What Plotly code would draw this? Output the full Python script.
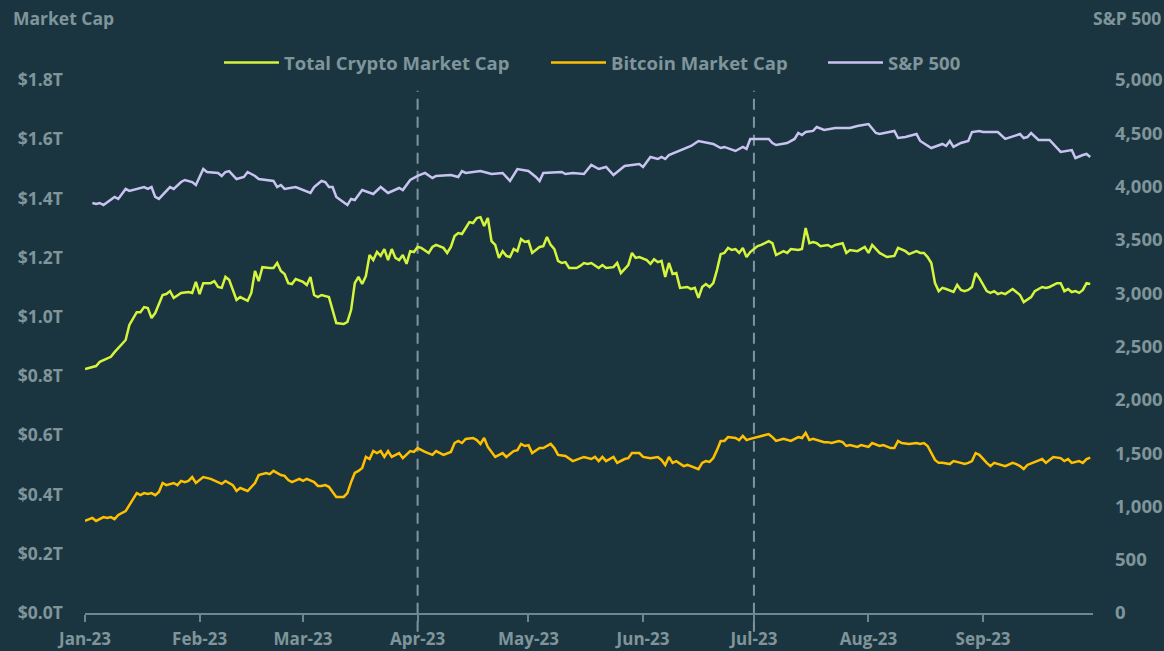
import pandas as pd
import plotly.graph_objects as go

START = "2023-01-01"

# Total crypto market cap (trillion USD), days since 2023-01-01
crypto_days = [0, 3, 4, 5, 7, 8, 9, 11, 12, 14,
               15, 16, 17, 18, 19, 21, 22, 23, 24, 26,
               28, 29, 30, 31, 32, 34, 35, 36, 37, 38,
               39, 41, 42, 44, 45, 46, 47, 48, 50, 51,
               52, 53, 54, 55, 56, 57, 59, 60, 61, 62,
               63, 64, 66, 67, 68, 70, 71, 72, 73, 74,
               75, 76, 77, 78, 79, 80, 81, 82, 83, 84,
               85, 86, 87, 88, 89, 90, 91, 93, 94, 95,
               97, 98, 99, 100, 101, 102, 103, 104, 105, 106,
               107, 108, 109, 110, 111, 112, 113, 114, 115, 116,
               117, 118, 119, 120, 121, 123, 124, 125, 126, 127,
               128, 129, 130, 131, 133, 134, 135, 136, 137, 139,
               140, 141, 143, 144, 145, 146, 147, 148, 149, 150,
               152, 153, 154, 155, 156, 157, 158, 159, 160, 161,
               163, 164, 165, 166, 167, 168, 169, 170, 171, 172,
               173, 174, 175, 176, 177, 178, 179, 180, 182, 183,
               185, 186, 187, 189, 190, 191, 193, 194, 195, 196,
               197, 198, 199, 201, 202, 203, 205, 206, 207, 209,
               211, 212, 213, 215, 216, 217, 219, 220, 222, 223,
               225, 226, 227, 228, 229, 230, 231, 232, 233, 235,
               236, 237, 238, 239, 240, 241, 242, 244, 245, 246,
               247, 248, 249, 251, 252, 253, 254, 256, 257, 259,
               260, 261, 263, 264, 265, 266, 267, 268, 269, 270,
               271, 272]
crypto_vals = [0.824, 0.834, 0.848, 0.854, 0.865, 0.881, 0.895, 0.922, 0.973, 1.016,
               1.016, 1.033, 1.030, 0.996, 1.013, 1.074, 1.077, 1.087, 1.064, 1.081,
               1.084, 1.081, 1.118, 1.077, 1.114, 1.114, 1.121, 1.101, 1.098, 1.135,
               1.125, 1.057, 1.067, 1.054, 1.081, 1.155, 1.121, 1.168, 1.165, 1.165,
               1.182, 1.155, 1.145, 1.114, 1.111, 1.128, 1.118, 1.108, 1.135, 1.074,
               1.067, 1.074, 1.067, 1.023, 0.979, 0.976, 0.983, 1.023, 1.114, 1.135,
               1.111, 1.138, 1.209, 1.192, 1.219, 1.206, 1.229, 1.192, 1.229, 1.199,
               1.192, 1.209, 1.179, 1.222, 1.219, 1.236, 1.233, 1.216, 1.236, 1.243,
               1.233, 1.216, 1.236, 1.273, 1.283, 1.280, 1.300, 1.320, 1.317, 1.334,
               1.337, 1.307, 1.334, 1.256, 1.243, 1.199, 1.222, 1.206, 1.202, 1.229,
               1.222, 1.263, 1.253, 1.256, 1.216, 1.236, 1.239, 1.270, 1.243, 1.229,
               1.189, 1.182, 1.185, 1.165, 1.165, 1.172, 1.182, 1.179, 1.182, 1.165,
               1.175, 1.165, 1.168, 1.182, 1.148, 1.162, 1.175, 1.216, 1.199, 1.202,
               1.192, 1.179, 1.195, 1.185, 1.189, 1.135, 1.182, 1.145, 1.148, 1.098,
               1.101, 1.094, 1.098, 1.064, 1.101, 1.111, 1.101, 1.114, 1.158, 1.212,
               1.216, 1.233, 1.226, 1.229, 1.216, 1.233, 1.202, 1.219, 1.239, 1.243,
               1.256, 1.249, 1.209, 1.222, 1.216, 1.229, 1.226, 1.229, 1.300, 1.249,
               1.253, 1.249, 1.239, 1.243, 1.236, 1.243, 1.249, 1.216, 1.226, 1.222,
               1.236, 1.216, 1.243, 1.216, 1.209, 1.202, 1.206, 1.233, 1.222, 1.212,
               1.222, 1.216, 1.216, 1.202, 1.182, 1.114, 1.087, 1.098, 1.094, 1.084,
               1.108, 1.091, 1.087, 1.091, 1.101, 1.148, 1.131, 1.087, 1.081, 1.087,
               1.077, 1.081, 1.077, 1.094, 1.084, 1.074, 1.050, 1.067, 1.087, 1.101,
               1.098, 1.101, 1.114, 1.114, 1.087, 1.094, 1.084, 1.087, 1.081, 1.091,
               1.114, 1.111]

# Bitcoin market cap (trillion USD)
btc_days = [0, 2, 3, 5, 6, 7, 8, 9, 11, 12,
            13, 14, 15, 16, 17, 18, 19, 20, 21, 22,
            24, 25, 26, 27, 28, 29, 30, 32, 34, 36,
            37, 38, 40, 41, 42, 44, 45, 46, 47, 48,
            49, 50, 51, 53, 54, 55, 56, 58, 59, 60,
            62, 63, 64, 65, 66, 67, 68, 70, 71, 72,
            73, 74, 75, 76, 77, 78, 79, 80, 81, 82,
            83, 85, 86, 88, 89, 90, 92, 94, 95, 97,
            99, 100, 101, 102, 103, 105, 106, 107, 108, 109,
            111, 113, 114, 116, 117, 118, 119, 120, 121, 123,
            124, 126, 127, 128, 130, 132, 133, 135, 137, 138,
            139, 140, 141, 143, 144, 146, 147, 148, 150, 151,
            153, 155, 156, 157, 158, 159, 160, 162, 163, 164,
            166, 167, 168, 169, 170, 171, 172, 173, 174, 176,
            177, 178, 179, 180, 182, 185, 186, 187, 189, 190,
            191, 193, 194, 195, 196, 197, 198, 200, 201, 202,
            204, 205, 206, 207, 209, 210, 212, 213, 215, 216,
            218, 219, 220, 221, 223, 225, 226, 227, 228, 229,
            230, 231, 232, 234, 235, 237, 238, 239, 240, 241,
            242, 244, 245, 246, 248, 249, 251, 252, 253, 254,
            255, 257, 259, 260, 261, 262, 264, 265, 266, 267,
            269, 270, 271, 272]
btc_vals = [0.311, 0.321, 0.311, 0.324, 0.321, 0.324, 0.317, 0.331, 0.344, 0.365,
            0.382, 0.405, 0.398, 0.405, 0.402, 0.405, 0.398, 0.409, 0.439, 0.432,
            0.439, 0.432, 0.446, 0.442, 0.446, 0.459, 0.439, 0.459, 0.453, 0.442,
            0.436, 0.446, 0.432, 0.412, 0.422, 0.412, 0.426, 0.439, 0.466, 0.469,
            0.473, 0.469, 0.480, 0.466, 0.463, 0.449, 0.442, 0.453, 0.446, 0.453,
            0.442, 0.429, 0.429, 0.432, 0.426, 0.409, 0.392, 0.392, 0.405, 0.442,
            0.473, 0.480, 0.490, 0.527, 0.520, 0.547, 0.540, 0.547, 0.527, 0.547,
            0.527, 0.540, 0.523, 0.547, 0.544, 0.557, 0.544, 0.534, 0.547, 0.534,
            0.544, 0.574, 0.581, 0.574, 0.588, 0.591, 0.584, 0.571, 0.591, 0.561,
            0.527, 0.540, 0.527, 0.547, 0.550, 0.571, 0.564, 0.567, 0.540, 0.557,
            0.557, 0.571, 0.557, 0.534, 0.530, 0.513, 0.517, 0.527, 0.520, 0.527,
            0.513, 0.527, 0.513, 0.527, 0.507, 0.520, 0.523, 0.540, 0.540, 0.527,
            0.523, 0.527, 0.517, 0.500, 0.527, 0.507, 0.513, 0.496, 0.500, 0.496,
            0.486, 0.507, 0.513, 0.510, 0.523, 0.550, 0.581, 0.581, 0.594, 0.591,
            0.584, 0.598, 0.584, 0.588, 0.594, 0.604, 0.594, 0.581, 0.588, 0.584,
            0.581, 0.594, 0.591, 0.608, 0.584, 0.588, 0.584, 0.577, 0.577, 0.574,
            0.581, 0.577, 0.564, 0.567, 0.561, 0.567, 0.561, 0.574, 0.564, 0.567,
            0.557, 0.557, 0.581, 0.574, 0.571, 0.574, 0.571, 0.574, 0.564, 0.540,
            0.517, 0.507, 0.507, 0.503, 0.513, 0.507, 0.503, 0.507, 0.513, 0.540,
            0.534, 0.507, 0.496, 0.507, 0.500, 0.496, 0.507, 0.503, 0.496, 0.486,
            0.500, 0.510, 0.520, 0.507, 0.517, 0.527, 0.523, 0.513, 0.520, 0.507,
            0.513, 0.507, 0.520, 0.525]

# S&P 500 index level
sp_days = [2, 3, 4, 5, 8, 9, 11, 12, 16, 17,
           18, 19, 20, 23, 24, 26, 27, 29, 30, 31,
           32, 33, 36, 37, 38, 39, 41, 43, 44, 46,
           47, 51, 52, 53, 54, 57, 61, 62, 64, 65,
           66, 67, 68, 71, 72, 73, 75, 78, 80, 82,
           85, 86, 88, 90, 92, 94, 95, 99, 101, 102,
           103, 107, 108, 110, 113, 115, 117, 120, 122, 123,
           124, 129, 130, 132, 135, 137, 139, 141, 143, 146,
           150, 151, 153, 155, 156, 157, 158, 163, 164, 166,
           170, 172, 173, 176, 178, 179, 180, 182, 183, 185,
           186, 187, 190, 192, 193, 194, 195, 197, 198, 200,
           203, 205, 207, 209, 212, 214, 215, 219, 220, 222,
           223, 225, 226, 229, 232, 233, 234, 235, 237, 239,
           240, 242, 243, 247, 249, 253, 254, 255, 256, 258,
           261, 264, 267, 268, 270, 271, 272]
sp_vals = [3846, 3837, 3846, 3827, 3903, 3884, 3978, 3959, 3996, 3978,
           3996, 3903, 3884, 3996, 3978, 4043, 4062, 4043, 4015, 4090,
           4165, 4137, 4128, 4100, 4137, 4146, 4071, 4090, 4137, 4100,
           4071, 4053, 3996, 4015, 3978, 3996, 3940, 3996, 4053, 4043,
           3996, 3996, 3903, 3827, 3884, 3874, 3968, 3931, 3996, 3940,
           3987, 3968, 4062, 4100, 4128, 4081, 4100, 4109, 4090, 4146,
           4128, 4146, 4137, 4118, 4128, 4053, 4165, 4146, 4090, 4053,
           4128, 4137, 4118, 4128, 4118, 4203, 4165, 4184, 4109, 4193,
           4212, 4184, 4278, 4259, 4278, 4259, 4296, 4362, 4381, 4428,
           4400, 4362, 4372, 4334, 4372, 4353, 4447, 4447, 4447, 4447,
           4409, 4390, 4409, 4447, 4503, 4484, 4512, 4522, 4559, 4531,
           4550, 4550, 4550, 4569, 4587, 4503, 4493, 4522, 4456, 4465,
           4475, 4493, 4428, 4362, 4400, 4381, 4428, 4372, 4409, 4428,
           4512, 4522, 4512, 4512, 4447, 4493, 4456, 4465, 4503, 4437,
           4437, 4325, 4343, 4268, 4296, 4306, 4278]

series_names = ["Total Crypto Market Cap", "Bitcoin Market Cap", "S&P 500"]
left_tick_vals = [0.0, 0.2, 0.4, 0.6, 0.8, 1.0, 1.2, 1.4, 1.6, 1.8]
left_tick_text = ["$0.0T", "$0.2T", "$0.4T", "$0.6T", "$0.8T",
                  "$1.0T", "$1.2T", "$1.4T", "$1.6T", "$1.8T"]
quarter_marks = ["2023-04-01", "2023-07-01"]


def to_dates(days):
    return pd.Timestamp(START) + pd.to_timedelta(days, unit="D")


BG = "#1b3540"
TXT = "#7f959b"
AXIS = "#6c878d"
FONT = "Open Sans"

fig = go.Figure()
fig.add_trace(go.Scatter(x=to_dates(crypto_days), y=crypto_vals, name=series_names[0],
                         mode="lines", line=dict(color="#d4f53c", width=2.5), yaxis="y",
                         legend="legend"))
fig.add_trace(go.Scatter(x=to_dates(btc_days), y=btc_vals, name=series_names[1],
                         mode="lines", line=dict(color="#ffc000", width=2.5), yaxis="y",
                         legend="legend2"))
fig.add_trace(go.Scatter(x=to_dates(sp_days), y=sp_vals, name=series_names[2],
                         mode="lines", line=dict(color="#c8c3f0", width=2.5), yaxis="y2",
                         legend="legend3"))

for d in quarter_marks:
    fig.add_shape(type="line", xref="x", yref="paper", x0=d, x1=d, y0=-0.035, y1=0.98,
                  line=dict(color=TXT, width=2, dash="11px,7px"), layer="below")

xfont = dict(family=FONT, size=17, color=TXT, weight=700)
y1font = dict(family=FONT, size=17.5, color=TXT, weight=700)
y2font = dict(family=FONT, size=18.5, color=TXT, weight=700)
legfont = dict(family=FONT, size=18.5, color=TXT, weight=700)


def leg(px):
    return dict(orientation="h", x=(px - 85) / 1008, xanchor="left", y=1.032,
                yanchor="middle", font=legfont, bgcolor="rgba(0,0,0,0)", itemwidth=55,
                borderwidth=0)


fig.update_layout(
    width=1164, height=651,
    paper_bgcolor=BG, plot_bgcolor=BG,
    margin=dict(l=85, r=71, t=80, b=38, autoexpand=False),
    font=dict(family=FONT, size=16, color=TXT, weight=700),
    showlegend=True,
    legend=leg(219), legend2=leg(546), legend3=leg(823),
    xaxis=dict(type="date", range=["2023-01-01", "2023-09-30 18:00"],
               tick0="2023-01-01", dtick="M1", tickformat="%b-%y",
               showgrid=False, zeroline=False, showline=True, linecolor=AXIS, linewidth=2,
               ticks="outside", ticklen=7, tickwidth=2, tickcolor=AXIS, tickfont=xfont,
               ticklabelstandoff=3, automargin=False),
    yaxis=dict(range=[0, 1.8], tickvals=left_tick_vals, ticktext=left_tick_text,
               showgrid=False, zeroline=False, showline=False, ticks="",
               tickfont=y1font, ticklabelstandoff=21, automargin=False),
    yaxis2=dict(range=[0, 5000], dtick=500, tick0=0, tickformat=",", overlaying="y",
                side="right", showgrid=False, zeroline=False, showline=False, ticks="",
                tickfont=y2font, ticklabelstandoff=21, automargin=False),
    annotations=[
        dict(text="Market Cap", xref="paper", yref="paper", x=(11 - 85) / 1008, y=1.116,
             xanchor="left", yanchor="middle", showarrow=False,
             font=dict(family=FONT, size=17.5, color=TXT, weight=700)),
        dict(text="S&P 500", xref="paper", yref="paper", x=(1163 - 85) / 1008, y=1.116,
             xanchor="right", yanchor="middle", showarrow=False,
             font=dict(family=FONT, size=17.5, color=TXT, weight=700)),
    ],
)

fig.write_html("out.html", config={"displayModeBar": False},
               post_script="document.body.style.margin='0';")
